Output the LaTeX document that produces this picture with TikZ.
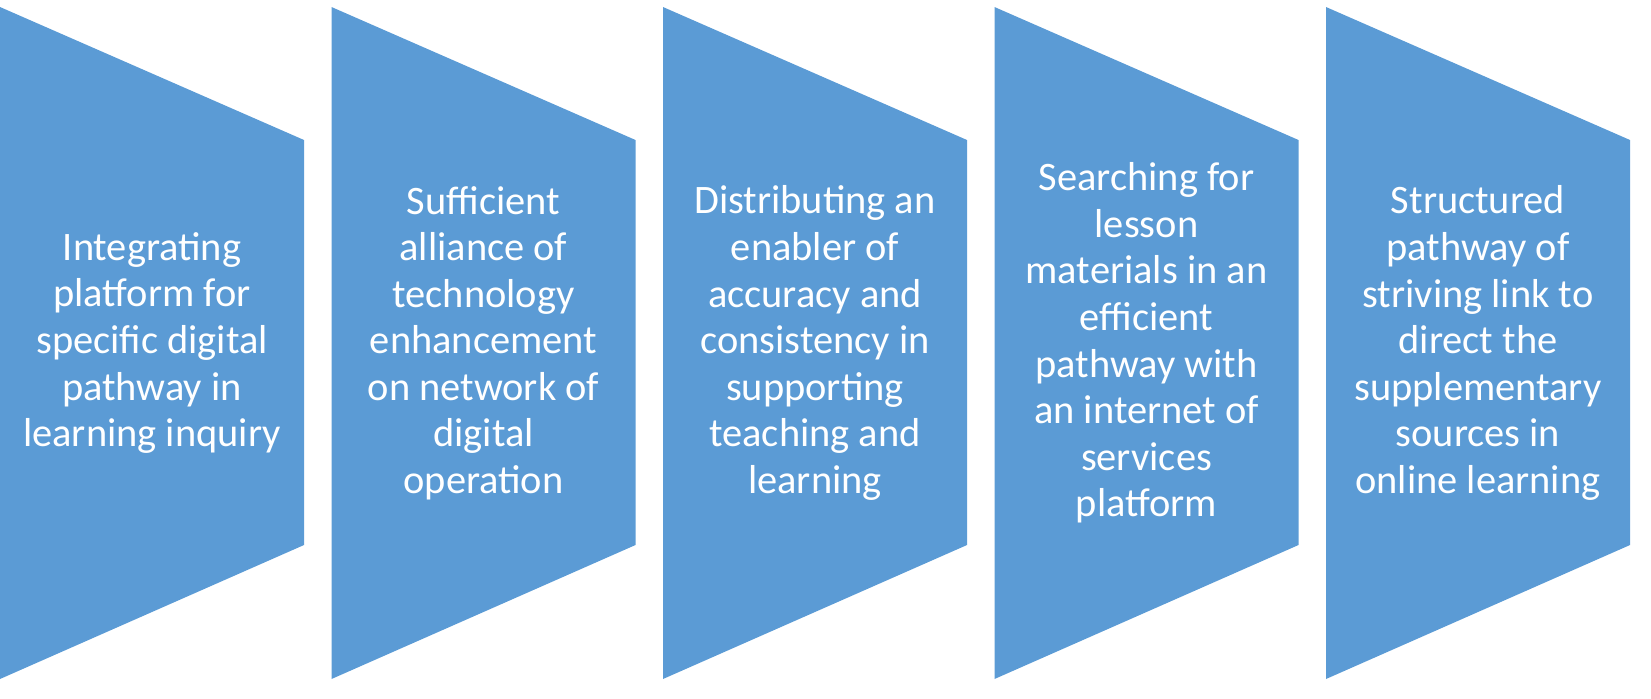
\documentclass[tikz,border=0pt]{standalone}
\usepackage{fontspec}
\setmainfont{Carlito}
\usepackage{xcolor}
\definecolor{panelblue}{RGB}{91,155,213}
\tikzset{
  paneltext/.style={text=white, align=center, font=\fontsize{23}{26.5}\selectfont}
}

\begin{document}
\begin{tikzpicture}[x=0.02cm,y=-0.02cm]
  \useasboundingbox (0,0) rectangle (1651,698);
  \def\W{304}
  \def\pas{331.5}
  \def\ytop{7}
  \def\ybot{679}
  \def\yrtop{140}
  \def\yrbot{545}
  \def\ymid{343}

  % panneaux
  \foreach \i in {0,...,4}{
    \pgfmathsetmacro{\x}{\i*\pas}
    \fill[panelblue] (\x,\ytop) -- (\x+\W,\yrtop) -- (\x+\W,\yrbot) -- (\x,\ybot) -- cycle;
  }

  % textes
  \node[paneltext] (panel1) at (0.5*\W,\ymid)
    {Integrating\\platform for\\specific digital\\pathway in\\learning inquiry};
  \node[paneltext] (panel2) at (\pas+0.5*\W,\ymid)
    {Sufficient\\alliance of\\technology\\enhancement\\on network of\\digital\\operation};
  \node[paneltext] (panel3) at (2*\pas+0.5*\W,\ymid)
    {Distributing an\\enabler of\\accuracy and\\consistency in\\supporting\\teaching and\\learning};
  \node[paneltext] (panel4) at (3*\pas+0.5*\W,\ymid)
    {Searching for\\lesson\\materials in an\\efficient\\pathway with\\an internet of\\services\\platform};
  \node[paneltext] (panel5) at (4*\pas+0.5*\W,\ymid)
    {Structured\\pathway of\\striving link to\\direct the\\supplementary\\sources in\\online learning};
\end{tikzpicture}
\end{document}
